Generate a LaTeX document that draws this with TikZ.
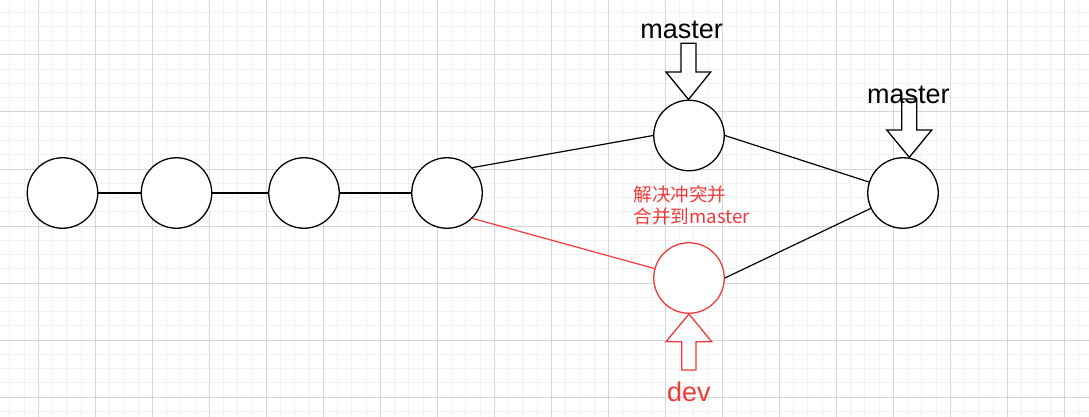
\documentclass[tikz,border=0pt]{standalone}
\usepackage{fontspec}
\setmainfont{Liberation Sans}
\newfontfamily\cjk{Noto Sans CJK SC}
\definecolor{myred}{HTML}{F23A3A}
\definecolor{gridminor}{HTML}{F2F2F2}
\definecolor{gridmajor}{HTML}{D6D6D6}
\begin{document}
\begin{tikzpicture}[x=1pt,y=-1pt,
  commit/.style={circle, draw=black, line width=1.3pt, fill=white, minimum size=70.5pt, inner sep=0pt},
  redcommit/.style={commit, draw=myred},
  edge/.style={line width=1.2pt, black},
  redge/.style={line width=1.2pt, myred},
  blockarrow/.style={line width=1.3pt, fill=white, line join=miter},
  lbl/.style={inner sep=0pt, font=\fontsize{27}{32}\selectfont},
  cn/.style={inner sep=0pt, text=myred, font=\cjk\fontsize{18.6}{22}\selectfont}]
\fill[white] (0,0) rectangle (1089,417);
\useasboundingbox (0,0) rectangle (1089,417);
% grid
\foreach \i in {0,...,76} \draw[gridminor, line width=1pt] ({9.8+14.25*\i},0) -- ({9.8+14.25*\i},417);
\foreach \i in {0,...,28} \draw[gridminor, line width=1pt] (0,{12.25+14.25*\i}) -- (1089,{12.25+14.25*\i});
\foreach \i in {0,...,18} \draw[gridmajor, line width=1pt] ({38.3+57*\i},0) -- ({38.3+57*\i},417);
\foreach \i in {0,...,6} \draw[gridmajor, line width=1pt] (0,{55+57*\i}) -- (1089,{55+57*\i});
% commits
\node[commit] (c1) at (62.5,193) {};
\node[commit] (c2) at (176.5,193) {};
\node[commit] (c3) at (304,193) {};
\node[commit] (c4) at (447,193) {};
\node[commit] (c5) at (689,135.5) {};
\node[commit] (c6) at (903,193) {};
\node[redcommit] (c7) at (689,278) {};
% connectors
\draw[edge] (c1) -- (c2);
\draw[edge] (c2) -- (c3);
\draw[edge] (c3) -- (c4);
\draw[edge] (c4.45) -- (c5.west);
\draw[edge] (c5.east) -- (c6);
\draw[edge] (c7.east) -- (c6);
\draw[redge] (c4.-45) -- (c7);
% block arrows
\draw[blockarrow] (681,43.3) -- (696,43.3) -- (696,72) -- (710.7,72) -- (688.5,99.5) -- (666,72) -- (681,72) -- cycle;
\draw[blockarrow] (901.7,99) -- (916.7,99) -- (916.7,130) -- (931.7,130) -- (909.3,157.3) -- (886.7,130) -- (901.7,130) -- cycle;
\draw[blockarrow, draw=myred] (681.7,370) -- (696,370) -- (696,341.7) -- (711.7,341.7) -- (689,314) -- (666,341.7) -- (681.7,341.7) -- cycle;
% labels
\node[lbl, anchor=base] (m1) at (681.7,39) {master};
\node[lbl, anchor=base] (m2) at (908.3,103.3) {master};
\node[lbl, text=myred, anchor=base] (dv) at (688.8,401) {dev};
\node[cn, anchor=base west] (t1) at (633.3,201.5) {解决冲突并};
\node[cn, anchor=base west] (t2) at (633.3,223.5) {合并到master};
\end{tikzpicture}
\end{document}
